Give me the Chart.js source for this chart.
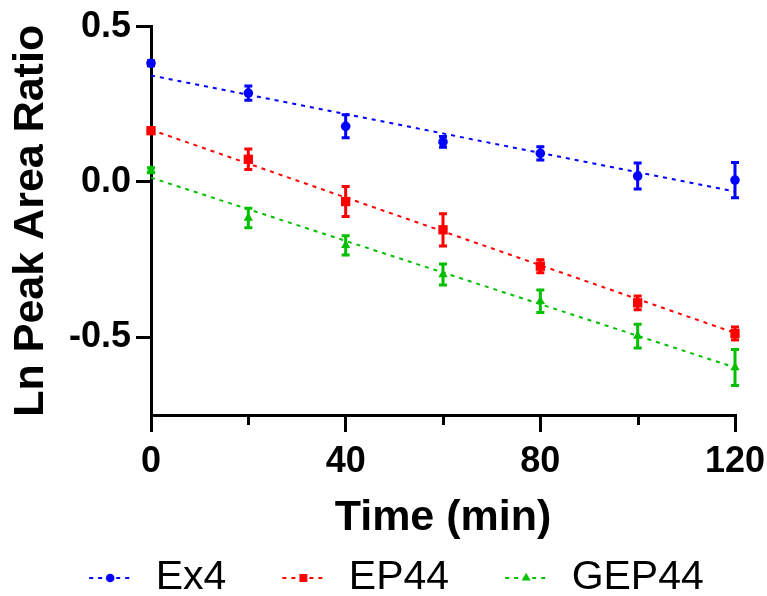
<!DOCTYPE html>
<html><head><meta charset="utf-8">
<script src="https://cdn.jsdelivr.net/npm/chart.js@4.4.0/dist/chart.umd.min.js"></script>
<style>html,body{margin:0;padding:0;background:#fff;}#wrap{width:767px;height:596px;position:relative;}</style>
</head><body><div id="wrap"><canvas id="c"></canvas></div>
<script>
// ---- data ----
const times = [0, 20, 40, 60, 80, 100, 120];
const seriesNames = ['Ex4', 'EP44', 'GEP44'];
const ex4 = [0.382, 0.286, 0.179, 0.129, 0.092, 0.019, 0.006];
const ex4Err = [0.008, 0.023, 0.037, 0.017, 0.021, 0.042, 0.057];
const ep44 = [0.165, 0.073, -0.063, -0.154, -0.271, -0.389, -0.488];
const ep44Err = [0.008, 0.033, 0.048, 0.052, 0.021, 0.022, 0.021];
const gep44 = [0.038, -0.116, -0.204, -0.298, -0.384, -0.496, -0.597];
const gep44Err = [0.008, 0.031, 0.031, 0.034, 0.036, 0.038, 0.058];
const fitX = [0, 120];
const ex4Fit = [0.343, -0.031];
const ep44Fit = [0.168, -0.486];
const gep44Fit = [0.014, -0.597];
const xTicks = [0, 40, 80, 120];
const xMinorTicks = [20, 60, 100];
const yTicks = [-0.5, 0, 0.5];

const colors = ['#0000FF', '#FF0000', '#00C000'];
const styles = ['circle', 'rect', 'triangle'];
const radii = [4.8, 6.6, 5.4];
const values = [ex4, ep44, gep44];
const errs = [ex4Err, ep44Err, gep44Err];
const fits = [ex4Fit, ep44Fit, gep44Fit];

Chart.defaults.font.family = "'Liberation Sans', Arial, sans-serif";
Chart.defaults.color = '#000';

const datasets = [];
values.forEach((vals, k) => {
  datasets.push({
    type: 'line', label: seriesNames[k] + ' fit', isFit: true,
    data: fitX.map((x, i) => ({x: x, y: fits[k][i]})),
    borderColor: colors[k], borderWidth: 2, borderDash: [4, 5],
    pointRadius: 0, fill: false, clip: false, order: 2
  });
});
values.forEach((vals, k) => {
  datasets.push({
    type: 'scatter', label: seriesNames[k], errors: errs[k],
    data: times.map((t, i) => ({x: t, y: vals[i]})),
    pointStyle: styles[k], pointRadius: radii[k], pointHoverRadius: radii[k],
    backgroundColor: colors[k], borderColor: colors[k], pointBorderWidth: 0,
    clip: false, order: 1
  });
});

function legendIcon(k) {
  const c = document.createElement('canvas');
  c.width = 92; c.height = 16;
  const g = c.getContext('2d');
  g.strokeStyle = colors[k]; g.lineWidth = 2; g.setLineDash([4, 5]);
  g.beginPath(); g.moveTo(46, 8); g.lineTo(88, 8); g.stroke();
  g.setLineDash([]);
  g.fillStyle = colors[k];
  Chart.helpers.drawPoint(g, {pointStyle: styles[k], radius: [4.3, 5.6, 5.2][k], borderWidth: 0, rotation: 0}, 67, 8);
  return c;
}
const icons = [0, 1, 2].map(legendIcon);

const errorBars = {
  id: 'errorBars',
  afterDatasetsDraw(chart) {
    const ctx = chart.ctx, xs = chart.scales.x, ys = chart.scales.y;
    chart.data.datasets.forEach((ds, di) => {
      if (!ds.errors) return;
      ctx.save();
      ctx.strokeStyle = ds.borderColor; ctx.lineWidth = 3; ctx.lineCap = 'butt';
      ds.data.forEach((p, i) => {
        const e = ds.errors[i];
        const x = xs.getPixelForValue(p.x);
        const y1 = ys.getPixelForValue(p.y + e), y2 = ys.getPixelForValue(p.y - e);
        ctx.beginPath();
        ctx.moveTo(x, y1); ctx.lineTo(x, y2);
        ctx.moveTo(x - 4, y1); ctx.lineTo(x + 4, y1);
        ctx.moveTo(x - 4, y2); ctx.lineTo(x + 4, y2);
        ctx.stroke();
      });
      ctx.restore();
    });
  }
};

const minorTicks = {
  id: 'minorTicks',
  afterDraw(chart) {
    const ctx = chart.ctx, xs = chart.scales.x, b = chart.chartArea.bottom;
    ctx.save(); ctx.strokeStyle = '#000'; ctx.lineWidth = 3;
    xMinorTicks.forEach(v => {
      const x = Math.round(xs.getPixelForValue(v)) + 0.5;
      ctx.beginPath(); ctx.moveTo(x, b); ctx.lineTo(x, b + 10); ctx.stroke();
    });
    ctx.restore();
  }
};

new Chart(document.getElementById('c'), {
  type: 'scatter',
  data: {datasets: datasets},
  plugins: [errorBars, minorTicks],
  options: {
    responsive: true, maintainAspectRatio: false, animation: false,
    layout: {padding: {top: 26, left: 12, right: 32, bottom: -12.5}},
    plugins: {
      tooltip: {enabled: false},
      legend: {
        position: 'bottom',
        labels: {
          usePointStyle: true, pointStyleWidth: 92, boxHeight: 16, padding: 10,
          color: '#000', font: {size: 41, weight: 'normal'},
          generateLabels: (chart) => seriesNames.map((n, k) => ({
            text: n, pointStyle: icons[k], fillStyle: colors[k], strokeStyle: colors[k],
            lineWidth: 0, hidden: false, datasetIndex: 3 + k, fontColor: '#000'
          }))
        }
      }
    },
    scales: {
      x: {
        type: 'linear', min: 0, max: 120,
        afterBuildTicks: s => { s.ticks = xTicks.map(v => ({value: v})); },
        afterFit: s => { s.height = 132.5; s.paddingLeft = 0; s.paddingRight = 0; },
        border: {display: true, color: '#000', width: 3},
        grid: {display: true, drawOnChartArea: false, drawTicks: true, tickLength: 17, lineWidth: 3, color: '#000'},
        ticks: {color: '#000', padding: 8, maxRotation: 0, font: {size: 36, weight: 'bold'}, callback: v => String(v)},
        title: {display: true, text: 'Time (min)', color: '#000', font: {size: 43, weight: 'bold'}, padding: {top: 0, bottom: 4}}
      },
      y: {
        type: 'linear', min: -0.75, max: 0.5,
        afterBuildTicks: s => { s.ticks = yTicks.map(v => ({value: v})); },
        afterFit: s => { s.width = 139; },
        border: {display: true, color: '#000', width: 3},
        grid: {display: true, drawOnChartArea: false, drawTicks: true, tickLength: 15, lineWidth: 3, color: '#000'},
        ticks: {color: '#000', padding: 5, font: {size: 36, weight: 'bold'}, callback: v => Number(v).toFixed(1)},
        title: {display: true, text: 'Ln Peak Area Ratio', color: '#000', font: {size: 43, weight: 'bold'}, padding: {top: -7, bottom: 0}}
      }
    }
  }
});
</script>
</body></html>
